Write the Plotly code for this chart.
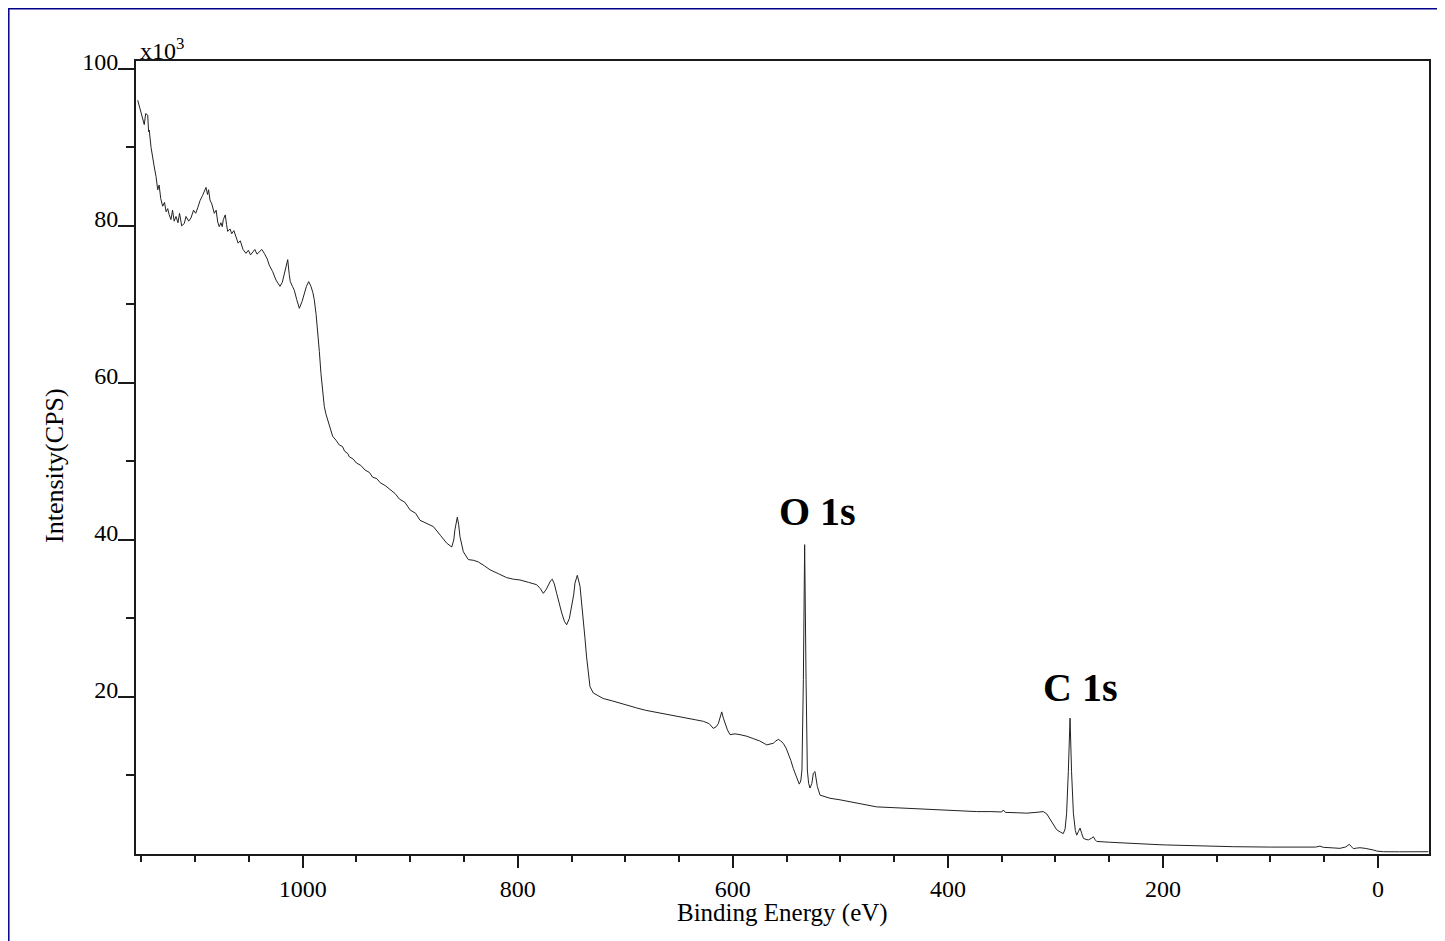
import plotly.graph_objects as go

# Binding energy (eV) and intensity (x10^3 CPS)
binding_energy = [
    1153.4, 1151.5, 1150.4, 1149, 1147.3, 1146, 1144.1, 1143.3, 1142.7, 1141, 1139.5, 1138, 1136.4, 1135.5,
    1134.8, 1133.5, 1132, 1130.2, 1128.5, 1127, 1125.5, 1124.1, 1122.5, 1121, 1119.5, 1117.8, 1116, 1114.5,
    1112.5, 1110.1, 1108.5, 1106, 1103.9, 1101.5, 1099.5, 1097.6, 1095.5, 1093.0, 1091.5, 1089.9, 1088.5,
    1087.5, 1086.2, 1084.5, 1082.2, 1080.5, 1079, 1077.6, 1076, 1074.8, 1073.8, 1072.0, 1070.8, 1069.8,
    1067.5, 1066, 1064, 1062.0, 1060, 1058, 1055.5, 1052.7, 1050.5, 1048.5, 1046.5, 1044.5, 1042.5, 1040.4,
    1038, 1035.7, 1033, 1031.1, 1028, 1024.8, 1022.5, 1021.1, 1019, 1017.1, 1015.5, 1013.9, 1012.5, 1011.5,
    1009.5, 1007.8, 1005.5, 1003.1, 1000.5, 998.5, 996.5, 994.4, 992.3, 990.5, 989.2, 987.5, 986.1, 984.5,
    983.0, 981.5, 979.9, 978.3, 976.8, 974.5, 972.1, 969, 966.0, 963, 961, 958, 956.7, 953, 950, 946, 942,
    938, 935, 931, 928, 923, 919, 914, 910, 905, 900, 895, 890.9, 885, 878.5, 872, 866.1, 861.4, 859.5,
    858.4, 856.2, 855, 853.7, 850.6, 846.0, 841, 836.7, 831, 825.8, 818, 810.3, 804, 797.9, 790, 782.4,
    779, 776.2, 773.5, 771.6, 769.5, 767.9, 766, 763.8, 761.5, 759.1, 756.5, 754.5, 752, 749.8, 748, 746.8,
    744.6, 742.1, 740.5, 739.1, 737.5, 736.0, 734.5, 732.8, 729.7, 725, 720.5, 712, 704.9, 697, 689.4, 681,
    673.9, 666, 658.4, 650, 642.9, 635, 627.4, 622, 618.2, 615.5, 613.5, 611.8, 610.3, 608.8, 607.3, 605,
    602.6, 598, 593.3, 587, 581.0, 575, 568.5, 565, 562.4, 560, 557.7, 555.5, 553.1, 550.5, 548.4, 546,
    543.8, 541, 538.2, 536.8, 535.7, 534.4, 533.2, 531.9, 530.7, 529.5, 528.2, 526.5, 525.1, 523.6, 522.5,
    521.4, 518.9, 514, 509.6, 500.3, 490, 480, 466.2, 450, 435.2, 420, 404.2, 390, 373.2, 360, 350, 348.5,
    346.5, 335, 326.7, 318, 311.3, 308, 305.1, 302, 298.9, 295.5, 292.7, 291, 289.6, 288, 286.4, 285, 283.3,
    281.5, 280.2, 278.5, 277.1, 275.5, 274.0, 271.5, 269.4, 266.5, 264.7, 263, 261.6, 250, 243.0, 233.7,
    220, 202.8, 196.5, 170, 134.5, 100, 72.6, 58, 54.0, 50.9, 42, 35.4, 30, 26.7, 24.5, 23.0, 20, 16.8, 12,
    7.5, 4, 1.3, -4.9, -20, -35, -46.7,
]
intensity_k = [
    96.0, 95.0, 94.6, 93.5, 92.9, 94.3, 94.1, 92.0, 92.2, 90.0, 88.4, 87.5, 86.3, 85.0,
    84.6, 85.2, 83.5, 82.5, 83.0, 81.8, 82.2, 81.4, 80.8, 82.0, 80.6, 81.2, 80.4, 81.6,
    80.0, 80.3, 81.2, 80.6, 81.0, 82.0, 81.6, 82.3, 83.2, 83.9, 84.3, 84.9, 84.0,
    84.6, 83.3, 82.8, 81.6, 82.0, 80.5, 79.9, 80.4, 79.9, 80.8, 81.4, 80.2, 79.3,
    79.6, 79.0, 79.4, 78.6, 77.8, 78.1, 77.0, 76.5, 76.9, 76.3, 76.7, 77.0, 76.4, 76.7,
    77.0, 76.5, 75.8, 75.0, 74.2, 73.1, 72.5, 72.3, 72.8, 73.8, 74.8, 75.7, 73.8, 72.9,
    72.3, 71.8, 70.6, 69.5, 70.4, 71.4, 72.3, 72.9, 72.3, 71.5, 70.6, 68.7, 66.8, 64.0,
    61.2, 59.0, 57.0, 56.0, 55.3, 54.2, 53.2, 52.7, 52.1, 51.9, 51.3, 51.0, 50.6, 50.3, 49.8, 49.5, 48.9,
    48.6, 48.0, 47.8, 47.3, 46.9, 46.4, 45.9, 45.2, 44.8, 43.8, 43.4, 42.5, 42.1, 41.7, 40.6, 39.6, 39.1, 40.0,
    41.3, 42.9, 42.0, 40.4, 38.5, 37.5, 37.4, 37.2, 36.7, 36.2, 35.7, 35.2, 35.0, 34.9, 34.6, 34.3,
    33.8, 33.2, 33.7, 34.3, 34.8, 35.0, 34.4, 33.2, 31.8, 30.7, 29.6, 29.2, 30.0, 31.5, 33.0, 34.5,
    35.5, 34.1, 32.0, 29.8, 27.5, 25.1, 23.0, 21.3, 20.5, 20.1, 19.8, 19.5, 19.2, 18.9, 18.6, 18.3,
    18.1, 17.9, 17.7, 17.5, 17.3, 17.1, 16.9, 16.6, 16.0, 16.2, 16.6, 17.5, 18.1, 17.3, 16.6, 15.8,
    15.2, 15.3, 15.2, 15.0, 14.7, 14.4, 13.9, 14.0, 14.1, 14.4, 14.6, 14.4, 14.1, 13.5, 12.8, 11.9,
    10.9, 9.9, 8.9, 9.3, 10.7, 22.2, 39.4, 22.2, 10.7, 9.0, 8.4, 9.0, 10.3, 10.5, 9.6,
    8.6, 7.5, 7.3, 7.1, 6.9, 6.6, 6.4, 6.0, 5.9, 5.8, 5.7, 5.6, 5.5, 5.4, 5.4, 5.35, 5.6,
    5.3, 5.25, 5.2, 5.3, 5.4, 5.1, 4.5, 3.7, 3.1, 2.8, 2.6, 3.2, 5.2, 10.5, 17.3, 10.5, 5.2,
    3.0, 2.4, 2.9, 3.3, 2.6, 2.0, 1.85, 1.8, 2.0, 2.2, 1.8, 1.6, 1.5, 1.44, 1.4,
    1.3, 1.18, 1.15, 1.05, 0.93, 0.88, 0.85, 0.88, 1.0, 0.85, 0.78, 0.72, 0.9, 1.23, 0.9, 0.68, 0.75, 0.8, 0.72,
    0.64, 0.5, 0.38, 0.29, 0.28, 0.29, 0.29,
]

x_major_ticks = [1000, 800, 600, 400, 200, 0]
y_major_ticks = [20, 40, 60, 80, 100]
y_minor_ticks = [10, 30, 50, 70, 90]

peak_labels = ["O 1s", "C 1s"]
peak_label_x = [521.7, 277.0]
peak_label_y = [43.6, 21.2]

FONT = "Liberation Serif, Times New Roman, serif"
INK = "#1a1a1a"

# page body adds an 8 px offset; plot area is kept at pixels x 136..1429, y 61..854
PAGE_OFF = 8
PL, PR, PT, PB = 136, 1429, 61, 854
W, H = 1445 - PAGE_OFF, 941 - PAGE_OFF
PW, PH = PR - PL, PB - PT

fig = go.Figure()
fig.add_trace(go.Scatter(
    x=binding_energy, y=intensity_k, mode="lines",
    line=dict(color="#222222", width=1), showlegend=False, hoverinfo="x+y",
))

for txt, px, py in zip(peak_labels, peak_label_x, peak_label_y):
    fig.add_annotation(x=px, y=py, xref="x", yref="y", text=f"<b>{txt}</b>", showarrow=False,
                       xanchor="center", yanchor="middle",
                       font=dict(family=FONT, size=40, color="black"))

# multiplier label
fig.add_annotation(x=0.0015, y=1, xref="paper", yref="paper", text="x10<sup>3</sup>",
                   showarrow=False, xanchor="left", yanchor="bottom", yshift=-5,
                   font=dict(family=FONT, size=24, color="black"))

# axis titles
fig.add_annotation(x=0.5, y=-(913 - PB) / PH, xref="paper", yref="paper", text="Binding Energy (eV)",
                   showarrow=False, xanchor="center", yanchor="middle",
                   font=dict(family=FONT, size=25, color="black"))
fig.add_annotation(x=-(PL - 54) / PW, y=(PB - 466) / PH, xref="paper", yref="paper",
                   text="Intensity(CPS)", textangle=-90, showarrow=False,
                   xanchor="center", yanchor="middle",
                   font=dict(family=FONT, size=26, color="black"))

# outer blue frame
fig.add_shape(type="rect", xref="paper", yref="paper",
              x0=-(PL - 8.8) / PW, x1=1.1, y0=-0.3, y1=1 + (PT - 8.8) / PH,
              line=dict(color="#00008b", width=1.5), fillcolor="rgba(0,0,0,0)", layer="below")

fig.update_layout(
    width=W, height=H,
    margin=dict(l=PL - PAGE_OFF, r=1445 - PR, t=PT - PAGE_OFF, b=941 - PB, pad=0, autoexpand=False),
    paper_bgcolor="white", plot_bgcolor="white",
    font=dict(family=FONT, size=24, color="black"),
)
fig.update_xaxes(
    range=[1155.0, -47.4], tickvals=x_major_ticks, ticks="outside", ticklen=12, tickwidth=2,
    tickcolor=INK, showline=True, linecolor=INK, linewidth=2, mirror=True, showgrid=False,
    zeroline=False, tickfont=dict(family=FONT, size=24, color="black"), automargin=False,
    minor=dict(dtick=50, tick0=0, ticks="outside", ticklen=6, tickwidth=2, tickcolor=INK, showgrid=False),
)
fig.update_yaxes(
    range=[0, 101.0], tickvals=y_major_ticks, ticks="outside", ticklen=16, tickwidth=2,
    tickcolor=INK, showline=True, linecolor=INK, linewidth=2, mirror=True, showgrid=False,
    zeroline=False, ticklabelposition="outside", ticklabelshift=-7, ticklabelstandoff=-5,
    tickfont=dict(family=FONT, size=24, color="black"), automargin=False,
    minor=dict(tickvals=y_minor_ticks, ticks="outside", ticklen=8, tickwidth=2, tickcolor=INK, showgrid=False),
)

fig.write_html("out.html")
